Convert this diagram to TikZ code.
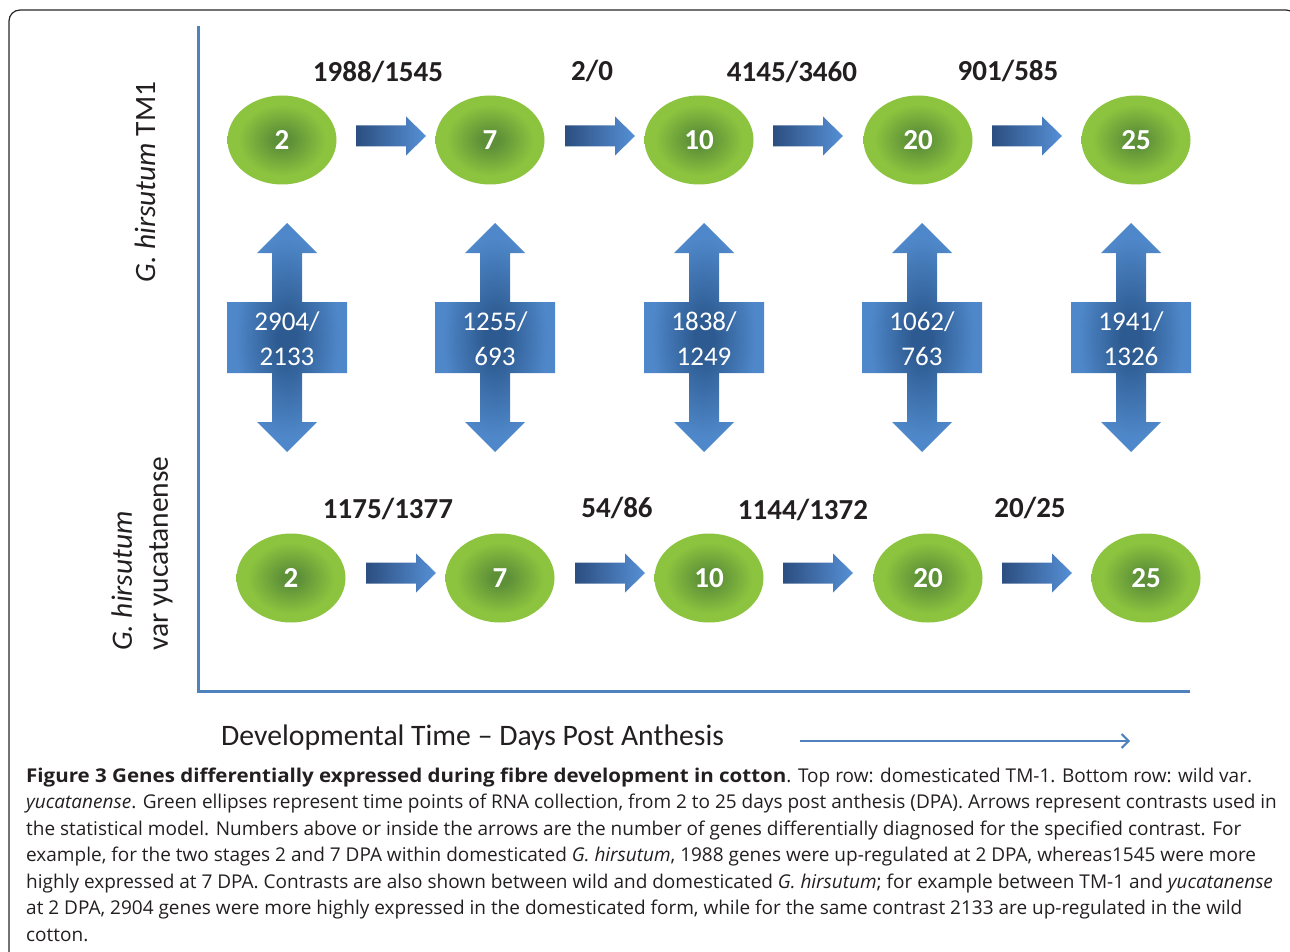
\documentclass[tikz,border=0pt]{standalone}
\usepackage{fontspec}
\setmainfont{Carlito}
\newfontfamily\capfont[BoldFeatures={FakeStretch=1.08}]{Open Sans}
\usetikzlibrary{shapes.geometric,arrows.meta}
\definecolor{axisblue}{HTML}{4F81BD}
\definecolor{gdark}{HTML}{5E9038}
\definecolor{glight}{HTML}{8CC43F}
\definecolor{adark}{HTML}{2C4E80}
\definecolor{alight}{HTML}{5690D6}
\definecolor{ddark}{HTML}{2D5A90}
\definecolor{dlight}{HTML}{4F88CA}
\definecolor{txt}{HTML}{231F20}
\pgfdeclareradialshading{greenball}{\pgfpointorigin}{color(0bp)=(gdark); color(4bp)=(gdark); color(20bp)=(glight); color(50bp)=(glight)}
\pgfdeclareradialshading{blueglow}{\pgfpointorigin}{color(0bp)=(ddark); color(4bp)=(ddark); color(22bp)=(dlight); color(50bp)=(dlight)}
\tikzset{
  stage/.style={ellipse, minimum width=109pt, minimum height=89pt, inner sep=0pt, shading=greenball, text=white, font=\fontsize{29}{35}\selectfont\bfseries},
  count/.style={text=txt, inner sep=0pt, font=\fontsize{29}{35}\selectfont\bfseries},
  dlabel/.style={text=white, align=center, inner sep=0pt, font=\fontsize{27}{35}\selectfont},
  harrow/.style={left color=adark, right color=alight},
  darrow/.style={shading=blueglow},
  axisline/.style={draw=axisblue, line width=3pt},
  sidelabel/.style={rotate=90, text=txt, inner sep=0pt, font=\fontsize{29.5}{36}\selectfont}
}
\begin{document}
\begin{tikzpicture}[x=1pt,y=-1pt]
\useasboundingbox (0,0) rectangle (1290,952);
% frame
\draw[rounded corners=11pt, line width=1.2pt, draw=black!85] (9,960) -- (9,10) -- (1297,10) -- (1297,960);
% axes
\coordinate (ytop) at (198,26);
\coordinate (origin) at (198,691);
\coordinate (xend) at (1190,691);
\draw[axisline] (ytop) -- (origin) -- (xend);
% side labels
\node[sidelabel] (toplab) at (145,182) {\textit{G. hirsutum} TM1};
\node[sidelabel, anchor=west, align=left] (botlab) at (142,651) {\textit{G. hirsutum}\\var yucatanense};
% stages
\foreach \x/\n [count=\i] in {282/2,490/7,699/10,918/20,1136/25}
  \node[stage] (t\i) at (\x,140) {\n};
\foreach \x/\n [count=\i] in {291/2,500/7,709/10,928/20,1146/25}
  \node[stage] (b\i) at (\x,578) {\n};
% horizontal block arrows
\foreach \x in {356,565,773,992}
  \path[harrow] (\x,125.5) -- (\x+50,125.5) -- (\x+50,116.5) -- (\x+70,136) -- (\x+50,155.5) -- (\x+50,146.5) -- (\x,146.5) -- cycle;
\foreach \x in {366,575,783,1002}
  \path[harrow] (\x,562.5) -- (\x+50,562.5) -- (\x+50,553.5) -- (\x+70,573) -- (\x+50,592.5) -- (\x+50,583.5) -- (\x,583.5) -- cycle;
% counts above arrows
\node[count] (c1) at (378,72) {1988/1545};
\node[count] (c2) at (592,71) {2/0};
\node[count] (c3) at (792,72) {4145/3460};
\node[count] (c4) at (1008,71) {901/585};
\node[count] (c5) at (388,509) {1175/1377};
\node[count] (c6) at (617,508) {54/86};
\node[count] (c7) at (803,510) {1144/1372};
\node[count] (c8) at (1030,508) {20/25};
% vertical double arrows
\foreach \cx/\a/\b [count=\i] in {287/2904/2133,495/1255/693,704/1838/1249,922/1062/763,1131/1941/1326}{
  \path[darrow] (\cx,223) -- (\cx+30,253) -- (\cx+15,253) -- (\cx+15,302) -- (\cx+60,302) -- (\cx+60,373)
    -- (\cx+15,373) -- (\cx+15,422) -- (\cx+30,422) -- (\cx,452) -- (\cx-30,422) -- (\cx-15,422)
    -- (\cx-15,373) -- (\cx-60,373) -- (\cx-60,302) -- (\cx-15,302) -- (\cx-15,253) -- (\cx-30,253) -- cycle;
  \node[dlabel] (d\i) at (\cx,339) {\a/\\\b};
}
% time axis label
\node[text=txt, inner sep=0pt, anchor=west, font=\fontsize{29.7}{34}\selectfont] (timelab) at (221,738) {Developmental Time – Days Post Anthesis};
\coordinate (tstart) at (800,741);
\coordinate (tend) at (1130,741);
\draw[draw=axisblue, line width=2pt, -{Straight Barb[length=7pt,width=14pt]}] (tstart) -- (tend);
% caption
\node[anchor=north west, align=left, inner sep=0pt, text=txt, font=\capfont\fontsize{19}{26.5}\selectfont] (cap) at (26,767.5) {%
\textbf{Figure 3 Genes differentially expressed during fibre development in cotton}. Top row: domesticated TM-1. Bottom row: wild var.\\
\textit{yucatanense}. Green ellipses represent time points of RNA collection, from 2 to 25 days post anthesis (DPA). Arrows represent contrasts used in\\
the statistical model. Numbers above or inside the arrows are the number of genes differentially diagnosed for the specified contrast. For\\
example, for the two stages 2 and 7 DPA within domesticated \textit{G. hirsutum}, 1988 genes were up-regulated at 2 DPA, whereas1545 were more\\
highly expressed at 7 DPA. Contrasts are also shown between wild and domesticated \textit{G. hirsutum}; for example between TM-1 and \textit{yucatanense}\\
at 2 DPA, 2904 genes were more highly expressed in the domesticated form, while for the same contrast 2133 are up-regulated in the wild\\
cotton.};
\end{tikzpicture}
\end{document}
